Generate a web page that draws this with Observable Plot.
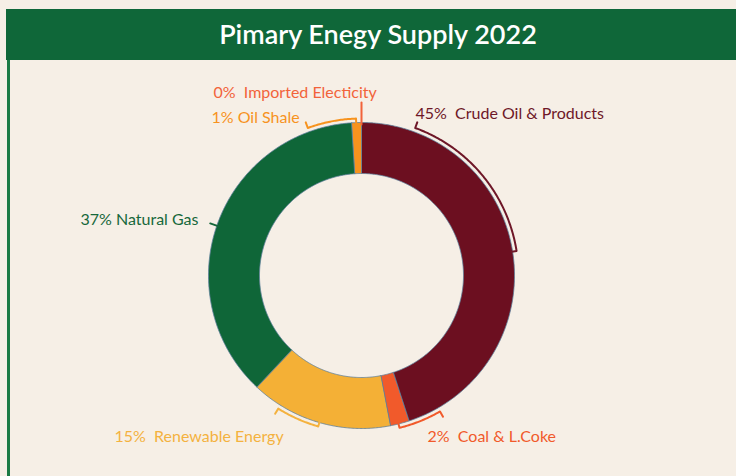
<!DOCTYPE html>
<html><head><meta charset="utf-8">
<script src="https://cdn.jsdelivr.net/npm/d3@7"></script>
<script src="https://cdn.jsdelivr.net/npm/@observablehq/plot@0.6"></script>
<style>
html,body{margin:0;padding:0;background:#f6efe6;width:736px;height:476px;overflow:hidden;font-family:Lato,"Open Sans",sans-serif;}
#header{position:absolute;left:6px;top:9px;width:744px;height:51px;background:#0f6739;color:#fff;font-size:27px;font-weight:600;text-align:center;line-height:50px;}
#rule{position:absolute;left:7px;top:60px;width:3px;height:416px;background:#1b7a45;}
#chart{position:absolute;left:0;top:60px;}
#chart svg text{white-space:pre;}
</style></head><body>
<div id="header">Pimary Enegy Supply 2022</div>
<div id="rule"></div>
<div id="chart"></div>
<script>
// ---- data ----
const categories = ["Crude Oil & Products","Coal & L.Coke","Renewable Energy","Natural Gas","Oil Shale","Imported Electicity"];
const shares = [45, 2, 15, 37, 1, 0];
const labels = ["45%  Crude Oil & Products","2%  Coal & L.Coke","15%  Renewable Energy","37% Natural Gas","1% Oil Shale","0%  Imported Electicity"];
const sliceColors = ["#6c0f20","#f15a2b","#f4b036","#0f6638","#f7931e","#f15a29"];
const labelColors = ["#6e1728","#f15a2b","#f4b23f","#17683b","#f7931e","#f2633a"];

// ---- layout (pixels relative to donut centre, degrees clockwise from top) ----
const R = 153, r0 = 102;
const labelOffset = [[54,-162],[66,161],[-247,161],[-281,-56],[-150,-158],[-148,-183]];
const bracketSpan = [[20,81],[150,166],[212,196],[289,289],[340,358],[0,0]];

const W = 736, H = 416, cx = 361, cy = 215;
const pt = (a, r) => ({x: (r/R)*Math.sin(a*Math.PI/180), y: (r/R)*Math.cos(a*Math.PI/180)});

// slices
const total = d3.sum(shares);
let acc = 0;
const slices = shares.map((v,i) => {
  const a0 = acc/total*360; acc += v; const a1 = acc/total*360;
  return {cat: categories[i], a0, a1, color: sliceColors[i]};
});
const sliceMarks = slices.filter(s => s.a1 > s.a0).map(s => {
  const n = Math.max(2, Math.ceil((s.a1 - s.a0)/0.5));
  const pts = [];
  for (let k = 0; k <= n; k++) pts.push(pt(s.a0 + (s.a1-s.a0)*k/n, R));
  for (let k = n; k >= 0; k--) pts.push(pt(s.a0 + (s.a1-s.a0)*k/n, r0));
  return Plot.line(pts, {x:"x", y:"y", fill: s.color, stroke:"#5d7f9b", strokeWidth:0.8, curve:"linear-closed"});
});

// brackets
const bracketMarks = bracketSpan.map(([la, ma], i) => {
  const pts = [];
  if (la === ma) {
    const outer = i === 5 ? 173 : 160;
    pts.push(pt(la, outer), pt(la, 151));
  } else {
    pts.push(pt(la, 163), pt(la, 157));
    const n = Math.max(2, Math.ceil(Math.abs(ma-la)/0.5));
    for (let k = 0; k <= n; k++) pts.push(pt(la + (ma-la)*k/n, 157));
    pts.push(pt(ma, 152));
  }
  return Plot.line(pts, {x:"x", y:"y", stroke: labelColors[i], strokeWidth: 2});
});

const labelData = labels.map((t,i) => ({t, x: labelOffset[i][0]/R, y: -labelOffset[i][1]/R, c: labelColors[i]}));

const chart = Plot.plot({
  width: W, height: H, margin: 0,
  style: {background: "transparent", fontFamily: "Lato, 'Open Sans', sans-serif", overflow: "visible"},
  x: {domain: [-cx/R, (W-cx)/R], range: [0, W], axis: null},
  y: {domain: [-(H-cy)/R, cy/R], range: [H, 0], axis: null},
  marks: [
    ...sliceMarks,
    ...bracketMarks,
    Plot.text(labelData, {x:"x", y:"y", text:"t", fill:"c", textAnchor:"start", fontSize:16})
  ]
});
document.getElementById("chart").appendChild(chart);
</script>
</body></html>
